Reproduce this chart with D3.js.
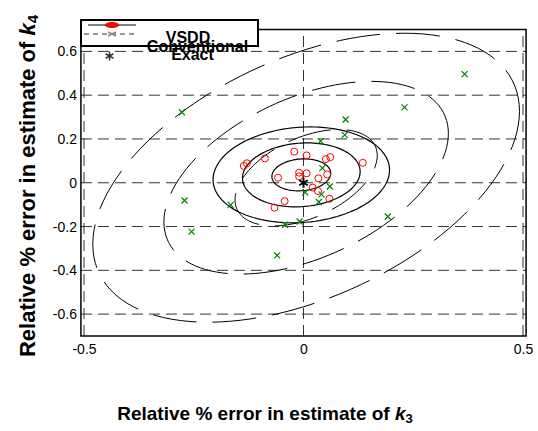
<!DOCTYPE html>
<head>
<meta charset="utf-8">
<style>
body { margin:0; background:#fff; }
svg text { font-family: "Liberation Sans", Arial, sans-serif; }
.tick text { font-size:14px; fill:#000; }
.lab { font-weight:bold; }
.leg { font-size:16px; font-weight:bold; }
</style>
</head>
<body>
<div id="chart"></div>
<script src="https://d3js.org/d3.v7.min.js"></script>
<script>

// tick values
var xTicks = [-0.5, 0, 0.5];
var yTicks = [-0.6, -0.4, -0.2, 0, 0.2, 0.4, 0.6];

// VSDD estimates (red circles)
var vsddX = [-0.136, -0.129, -0.088, -0.021, 0.007, 0.051, 0.061, 0.135, -0.058, -0.010,
             -0.010, 0.007, 0.034, 0.054, 0.021, 0.033, 0.059, -0.043, -0.066];
var vsddY = [0.077, 0.089, 0.111, 0.142, 0.125, 0.108, 0.117, 0.091, 0.023, 0.046,
             0.029, 0.043, 0.020, 0.038, -0.022, -0.038, -0.073, -0.084, -0.114];

// conventional estimates (green x)
var convX = [-0.277, 0.039, 0.096, 0.094, 0.230, 0.367, 0.043, -0.271, -0.166, -0.255,
             -0.042, -0.009, -0.060, 0.192, 0.060, 0.004, 0.041, 0.035];
var convY = [0.322, 0.190, 0.289, 0.219, 0.344, 0.496, 0.067, -0.081, -0.101, -0.223,
             -0.192, -0.177, -0.332, -0.154, -0.017, -0.044, -0.053, -0.088];

// exact value
var exactX = [0], exactY = [0];

// confidence ellipses: centre, std devs, correlation, sigma levels
var levels = [1, 2, 3];
var vsddEll = [-0.005, 0.036, 0.067, 0.073, 0.10];
var convEll = [0.006, 0.023, 0.162, 0.220, 0.46];

var W = 538, H = 431;
var svg = d3.select("#chart").append("svg")
    .attr("width", W).attr("height", H);

var x = d3.scaleLinear().domain([-0.5, 0.5]).range([84, 523]);
var y = d3.scaleLinear().domain([-0.7, 0.7]).range([336, 29.5]);
var x0 = x(-0.507), x1 = x(0.507);

var fmt = function(d) { return d === 0 ? "0" : String(d); };

// grid
svg.append("g").selectAll("line").data(yTicks).enter().append("line")
    .attr("x1", x0).attr("x2", x1)
    .attr("y1", function(d) { return y(d); }).attr("y2", function(d) { return y(d); })
    .attr("stroke", "#333").attr("stroke-dasharray", "11,6");
svg.append("g").selectAll("line").data(xTicks).enter().append("line")
    .attr("y1", y(-0.7)).attr("y2", y(0.7))
    .attr("x1", function(d) { return x(d); }).attr("x2", function(d) { return x(d); })
    .attr("stroke", "#333").attr("stroke-dasharray", "11,6");

// ellipses
function ellipse(p, k) {
  var pts = d3.range(0, 361, 3).map(function(a) {
    var t = a * Math.PI / 180;
    var ex = p[0] + k * p[2] * Math.cos(t);
    var ey = p[1] + k * p[3] * (p[4] * Math.cos(t) + Math.sqrt(1 - p[4] * p[4]) * Math.sin(t));
    return [x(ex), y(ey)];
  });
  return d3.line()(pts);
}

svg.append("g").selectAll("path").data(levels).enter().append("path")
    .attr("d", function(k) { return ellipse(convEll, k); })
    .attr("fill", "none").attr("stroke", "#000").attr("stroke-width", 1)
    .attr("stroke-dasharray", "44,16");
svg.append("g").selectAll("path").data(levels).enter().append("path")
    .attr("d", function(k) { return ellipse(vsddEll, k); })
    .attr("fill", "none").attr("stroke", "#000").attr("stroke-width", 1.2);

// markers
svg.append("g").selectAll("circle").data(vsddX).enter().append("circle")
    .attr("cx", function(d) { return x(d); })
    .attr("cy", function(d, i) { return y(vsddY[i]); })
    .attr("r", 3.5).attr("fill", "none").attr("stroke", "red");

svg.append("g").selectAll("path").data(convX).enter().append("path")
    .attr("d", function(d, i) {
      var cx = x(d), cy = y(convY[i]), s = 3;
      return "M" + (cx - s) + "," + (cy - s) + "L" + (cx + s) + "," + (cy + s) +
             "M" + (cx - s) + "," + (cy + s) + "L" + (cx + s) + "," + (cy - s);
    })
    .attr("stroke", "#008000").attr("stroke-width", 1.2);

function star(cx, cy, s) {
  var d = "M" + cx + "," + (cy - s) + "L" + cx + "," + (cy + s);
  [30, 150].forEach(function(a) {
    var r = a * Math.PI / 180;
    d += "M" + (cx - s * Math.cos(r)) + "," + (cy - s * Math.sin(r)) +
         "L" + (cx + s * Math.cos(r)) + "," + (cy + s * Math.sin(r));
  });
  return d;
}
svg.append("g").selectAll("path").data(exactX).enter().append("path")
    .attr("d", function(d, i) { return star(x(d), y(exactY[i]), 5); })
    .attr("stroke", "#000").attr("stroke-width", 2);

// box
svg.append("rect")
    .attr("x", x0).attr("y", y(0.7))
    .attr("width", x1 - x0).attr("height", y(-0.7) - y(0.7))
    .attr("fill", "none").attr("stroke", "#000").attr("stroke-width", 1.5);

// axes
var gx = svg.append("g").attr("transform", "translate(0," + y(-0.7) + ")")
    .call(d3.axisBottom(x).tickValues(xTicks).tickSize(0).tickPadding(8).tickFormat(fmt));
var gy = svg.append("g").attr("transform", "translate(" + x0 + ",0)")
    .call(d3.axisLeft(y).tickValues(yTicks).tickSize(0).tickPadding(4).tickFormat(fmt));
gx.select(".domain").remove();
gy.select(".domain").remove();
svg.selectAll(".tick text").attr("font-family", null).attr("font-size", null);

// axis labels
var xl = svg.append("text").attr("class", "lab").attr("font-size", "19px")
    .attr("x", 265).attr("y", 420).attr("text-anchor", "middle");
xl.append("tspan").text("Relative % error in estimate of ");
xl.append("tspan").attr("font-style", "italic").text("k");
xl.append("tspan").attr("font-size", "13px").attr("dy", 3).text("3");

var yl = svg.append("text").attr("class", "lab").attr("font-size", "22px")
    .attr("transform", "translate(35,186) rotate(-90)").attr("text-anchor", "middle");
yl.append("tspan").text("Relative % error in estimate of ");
yl.append("tspan").attr("font-style", "italic").text("k");
yl.append("tspan").attr("font-size", "15px").attr("dy", 3).text("4");

// legend
var lg = svg.append("g");
lg.append("rect").attr("x", 81).attr("y", 20).attr("width", 177).attr("height", 26)
    .attr("fill", "#fff").attr("stroke", "#000").attr("stroke-width", 2);
lg.append("line").attr("x1", 88).attr("x2", 136).attr("y1", 25).attr("y2", 25)
    .attr("stroke", "#000");
lg.append("ellipse").attr("cx", 112).attr("cy", 25).attr("rx", 6.5).attr("ry", 2.5)
    .attr("fill", "red").attr("stroke", "#d00");
lg.append("line").attr("x1", 84).attr("x2", 136).attr("y1", 34).attr("y2", 34)
    .attr("stroke", "#333").attr("stroke-dasharray", "5,4");
lg.append("path").attr("d", "M108,32L116,36M108,36L116,32")
    .attr("stroke", "#888").attr("stroke-width", 1.5);
lg.append("path").attr("d", star(109.5, 56, 4.5))
    .attr("stroke", "#333").attr("stroke-width", 1.5);
lg.append("text").attr("class", "leg").attr("x", 188).attr("y", 43)
    .attr("text-anchor", "middle").text("VSDD");
lg.append("text").attr("class", "leg").attr("x", 197.5).attr("y", 52)
    .attr("text-anchor", "middle").text("Conventional");
lg.append("text").attr("class", "leg").attr("x", 192.5).attr("y", 60)
    .attr("text-anchor", "middle").text("Exact");

</script>
</body>
